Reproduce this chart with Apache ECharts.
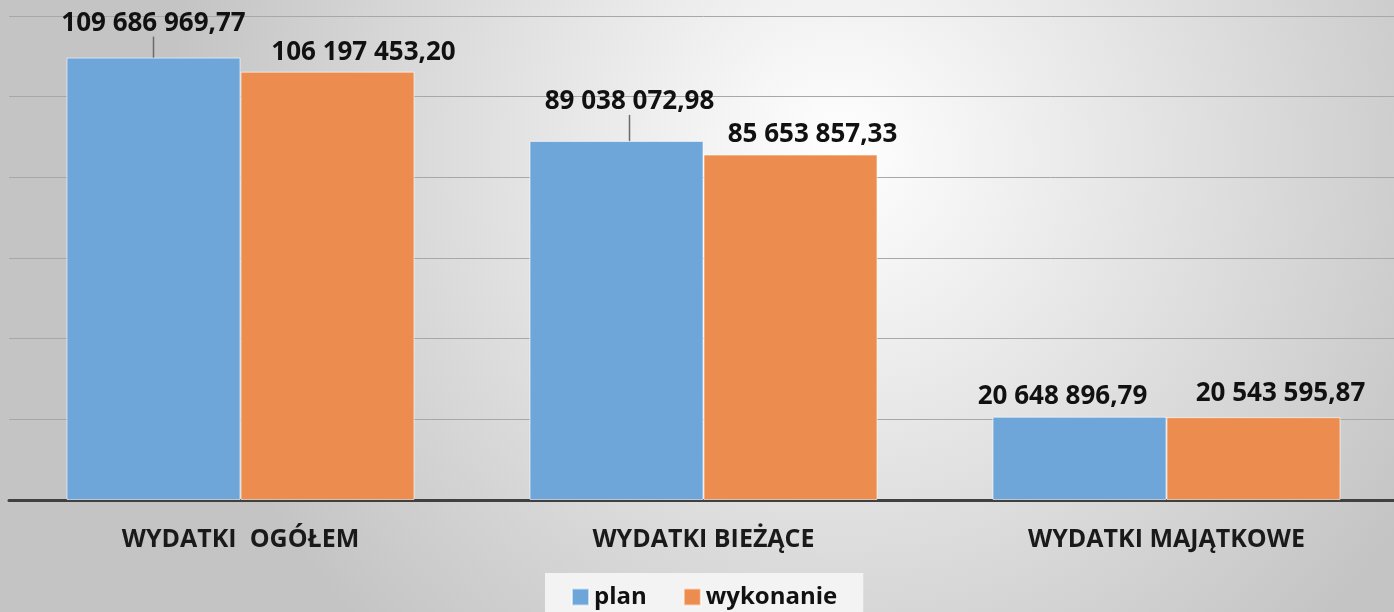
<!DOCTYPE html>
<html>
<head>
<meta charset="utf-8">
<script src="https://cdn.jsdelivr.net/npm/echarts@6/dist/echarts.min.js"></script>
<style>
  html, body { margin: 0; padding: 0; overflow: hidden; }
  #chart { width: 1398px; height: 612px; }
</style>
</head>
<body>
<div id="chart"></div>
<script>
const categories = ['WYDATKI  OGÓŁEM', 'WYDATKI BIEŻĄCE', 'WYDATKI MAJĄTKOWE']
const planValues = [109686969.77, 89038072.98, 20648896.79]
const wykonanieValues = [106197453.20, 85653857.33, 20543595.87]

// label nudges (dx, dy) so labels sit where the original had them
const planLabelShift = [[0, -16], [13, -21], [-17, -2]]
const wykonanieLabelShift = [[36, -1], [22, -2], [27, -6]]

const fmt = (v) => {
  const [int, dec] = v.toFixed(2).split('.')
  return int.replace(/\B(?=(\d{3})+(?!\d))/g, ' ') + ',' + dec
}

const chart = echarts.init(document.getElementById('chart'))

const labelStyle = {
  show: true,
  position: 'top',
  distance: 5,
  fontFamily: 'Open Sans',
  fontWeight: 'bold',
  fontSize: 26,
  color: '#111',
  formatter: (p) => fmt(p.value),
}

chart.setOption({
  backgroundColor: new echarts.graphic.RadialGradient(0.6, 0.25, 1.1, [
    { offset: 0, color: '#ffffff' },
    { offset: 1, color: '#c4c4c4' },
  ]),
  grid: {
    left: 9,
    right: 0,
    top: 16,
    bottom: 112,
  },
  legend: {
    top: 573,
    left: 545,
    icon: 'rect',
    itemWidth: 17,
    itemHeight: 17,
    itemGap: 36,
    padding: [12, 26, 14, 26],
    backgroundColor: '#f3f3f3',
    textStyle: {
      fontFamily: 'Open Sans',
      fontWeight: 'bold',
      fontSize: 24,
      color: '#111',
    },
    data: ['plan', 'wykonanie'],
  },
  xAxis: {
    type: 'category',
    data: categories,
    axisLine: { lineStyle: { color: '#404040', width: 3 } },
    axisTick: { show: false },
    axisLabel: {
      margin: 27,
      fontFamily: 'Open Sans',
      fontWeight: 'bold',
      fontSize: 25,
      color: '#1a1a1a',
    },
  },
  yAxis: {
    type: 'value',
    min: 0,
    max: 120000000,
    interval: 20000000,
    axisLabel: { show: false },
    axisLine: { show: false },
    axisTick: { show: false },
    splitLine: { lineStyle: { color: '#a8a8a8', width: 1 } },
  },
  series: [
    {
      name: 'plan',
      type: 'bar',
      barWidth: 174,
      barGap: '0%',
      itemStyle: { color: '#6fa6da', borderColor: 'rgba(255,255,255,0.6)', borderWidth: 1 },
      label: labelStyle,
      labelLine: { show: true, lineStyle: { color: '#6b6b6b', width: 1.5 } },
      labelLayout: (p) => ({ dx: planLabelShift[p.dataIndex][0], dy: planLabelShift[p.dataIndex][1] }),
      data: planValues.map((v, i) => (i === 2 ? { value: v, labelLine: { show: false } } : v)),
    },
    {
      name: 'wykonanie',
      type: 'bar',
      barWidth: 174,
      itemStyle: { color: '#ec8d4f', borderColor: 'rgba(255,255,255,0.6)', borderWidth: 1 },
      label: labelStyle,
      labelLayout: (p) => ({ dx: wykonanieLabelShift[p.dataIndex][0], dy: wykonanieLabelShift[p.dataIndex][1] }),
      data: wykonanieValues,
    },
  ],
})

window.addEventListener('resize', () => chart.resize())
</script>
</body>
</html>
